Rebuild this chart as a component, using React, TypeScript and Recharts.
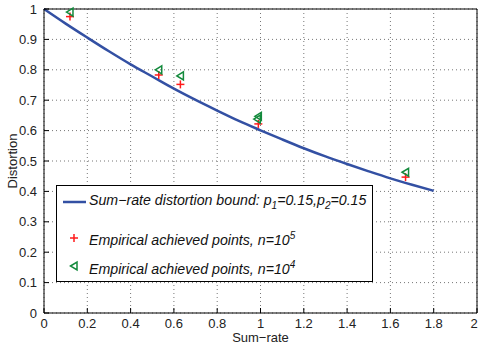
import React from 'react';
import {
  ComposedChart,
  Line,
  Scatter,
  XAxis,
  YAxis,
  CartesianGrid,
  Legend,
  Label
} from 'recharts';

// bound curve
const curveX = [0, 0.1, 0.2, 0.3, 0.4, 0.5, 0.6, 0.7, 0.8, 0.9, 1.0, 1.1, 1.2, 1.3, 1.4, 1.5, 1.6, 1.7, 1.8];
const curveY = [1.0, 0.952, 0.906, 0.861, 0.818, 0.778, 0.738, 0.701, 0.666, 0.632, 0.601, 0.571, 0.542, 0.515, 0.49, 0.466, 0.443, 0.422, 0.402];

// n = 10^5
const plusX = [0.12, 0.53, 0.63, 0.99, 1.67];
const plusY = [0.975, 0.783, 0.752, 0.622, 0.447];

// n = 10^4
const triX = [0.12, 0.53, 0.63, 0.985, 0.99, 1.67];
const triY = [0.99, 0.8, 0.78, 0.638, 0.647, 0.463];

const xTicks = [0, 0.2, 0.4, 0.6, 0.8, 1, 1.2, 1.4, 1.6, 1.8, 2];
const yTicks = [0, 0.1, 0.2, 0.3, 0.4, 0.5, 0.6, 0.7, 0.8, 0.9, 1];

const curveData = curveX.map((x, i) => ({ x, y: curveY[i] }));
const plusData = plusX.map((x, i) => ({ x, y: plusY[i] }));
const triData = triX.map((x, i) => ({ x, y: triY[i] }));

const FONT = '"Liberation Sans", Arial, sans-serif';
const BLUE = '#3350a3';
const RED = '#ff1a1a';
const GREEN = '#138a3c';

const fmt = (v: number) => String(Number(v.toFixed(1)));

const PlusMark = (props: any) => {
  const { cx, cy } = props;
  return (
    <g stroke={RED} strokeWidth={1.5}>
      <line x1={cx - 4} y1={cy} x2={cx + 4} y2={cy} />
      <line x1={cx} y1={cy - 4} x2={cx} y2={cy + 4} />
    </g>
  );
};

const TriMark = (props: any) => {
  const { cx, cy } = props;
  return (
    <polygon
      points={`${cx - 3.5},${cy} ${cx + 3},${cy - 4} ${cx + 3},${cy + 4}`}
      fill="none"
      stroke={GREEN}
      strokeWidth={1.5}
    />
  );
};

// x tick: the last label sits on the window edge, nudge it in a little
const XTick = (props: any) => {
  const { x, y, payload } = props;
  const last = payload.value === xTicks[xTicks.length - 1];
  return (
    <text
      x={last ? x - 3 : x}
      y={y}
      dy="0.71em"
      textAnchor="middle"
      fill="#222"
      fontSize={13}
      fontFamily={FONT}
    >
      {fmt(payload.value)}
    </text>
  );
};

const LegendBox = () => (
  <div
    style={{
      position: 'relative',
      width: 317,
      height: 97,
      boxSizing: 'border-box',
      border: '1px solid #000',
      background: '#fff',
      fontFamily: FONT,
      fontStyle: 'italic',
      fontSize: 14.2,
      color: '#111'
    }}
  >
    <svg width={40} height={97} style={{ position: 'absolute', left: 0, top: 0 }}>
      <line x1={6} y1={16} x2={29} y2={16} stroke={BLUE} strokeWidth={2.5} />
      <PlusMark cx={17} cy={52} />
      <TriMark cx={17} cy={80} />
    </svg>
    <div style={{ position: 'absolute', left: 32, top: 6, whiteSpace: 'nowrap' }}>
      Sum−rate distortion bound: p<sub style={{ fontSize: 10 }}>1</sub>=0.15,p
      <sub style={{ fontSize: 10 }}>2</sub>=0.15
    </div>
    <div style={{ position: 'absolute', left: 32, top: 44, whiteSpace: 'nowrap' }}>
      Empirical achieved points, n=10<sup style={{ fontSize: 10 }}>5</sup>
    </div>
    <div style={{ position: 'absolute', left: 32, top: 73, whiteSpace: 'nowrap' }}>
      Empirical achieved points, n=10<sup style={{ fontSize: 10 }}>4</sup>
    </div>
  </div>
);

export default function App() {
  const tickStyle = { fill: '#222', fontSize: 13, fontFamily: FONT };
  return (
    <div>
      <style>{'body{margin:0}'}</style>
      <ComposedChart
        width={479}
        height={347}
        margin={{ top: 8, right: 1, left: 0, bottom: 0 }}
        style={{ background: '#fff' }}
      >
        <CartesianGrid stroke="#777" strokeDasharray="1 3" />
        <XAxis
          dataKey="x"
          type="number"
          domain={[0, 2]}
          ticks={xTicks}
          height={34}
          tickSize={-5}
          tickMargin={11}
          tick={<XTick />}
          stroke="#000"
          interval={0}
        >
          <Label
            value="Sum−rate"
            position="insideBottom"
            offset={5}
            style={{ fill: '#222', fontSize: 13, fontFamily: FONT }}
          />
        </XAxis>
        <XAxis
          xAxisId="top"
          orientation="top"
          type="number"
          domain={[0, 2]}
          ticks={xTicks}
          height={1}
          tickSize={-5}
          tick={false}
          stroke="#000"
          interval={0}
        />
        <YAxis
          type="number"
          domain={[0, 1]}
          ticks={yTicks}
          tickFormatter={fmt}
          width={44}
          tickSize={-5}
          tickMargin={12}
          tick={tickStyle}
          stroke="#000"
          interval={0}
        >
          <Label
            content={({ viewBox }: any) => {
              const cy = viewBox.y + viewBox.height / 2;
              return (
                <text
                  x={17}
                  y={cy}
                  transform={`rotate(-90 17 ${cy})`}
                  textAnchor="middle"
                  fill="#222"
                  fontSize={13}
                  fontFamily={FONT}
                >
                  Distortion
                </text>
              );
            }}
          />
        </YAxis>
        <YAxis
          yAxisId="right"
          orientation="right"
          type="number"
          domain={[0, 1]}
          ticks={yTicks}
          width={1}
          tickSize={-5}
          tick={false}
          stroke="#000"
          interval={0}
        />
        <Line
          data={curveData}
          dataKey="y"
          type="monotone"
          stroke={BLUE}
          strokeWidth={2.5}
          dot={false}
          isAnimationActive={false}
          name="bound"
        />
        <Scatter data={plusData} dataKey="y" shape={<PlusMark />} isAnimationActive={false} name="n5" />
        <Scatter data={triData} dataKey="y" shape={<TriMark />} isAnimationActive={false} name="n4" />
        <Legend
          layout="vertical"
          align="center"
          verticalAlign="middle"
          content={<LegendBox />}
          wrapperStyle={{ position: 'absolute', left: 56, top: 185, width: 317, height: 97 }}
        />
      </ComposedChart>
    </div>
  );
}
